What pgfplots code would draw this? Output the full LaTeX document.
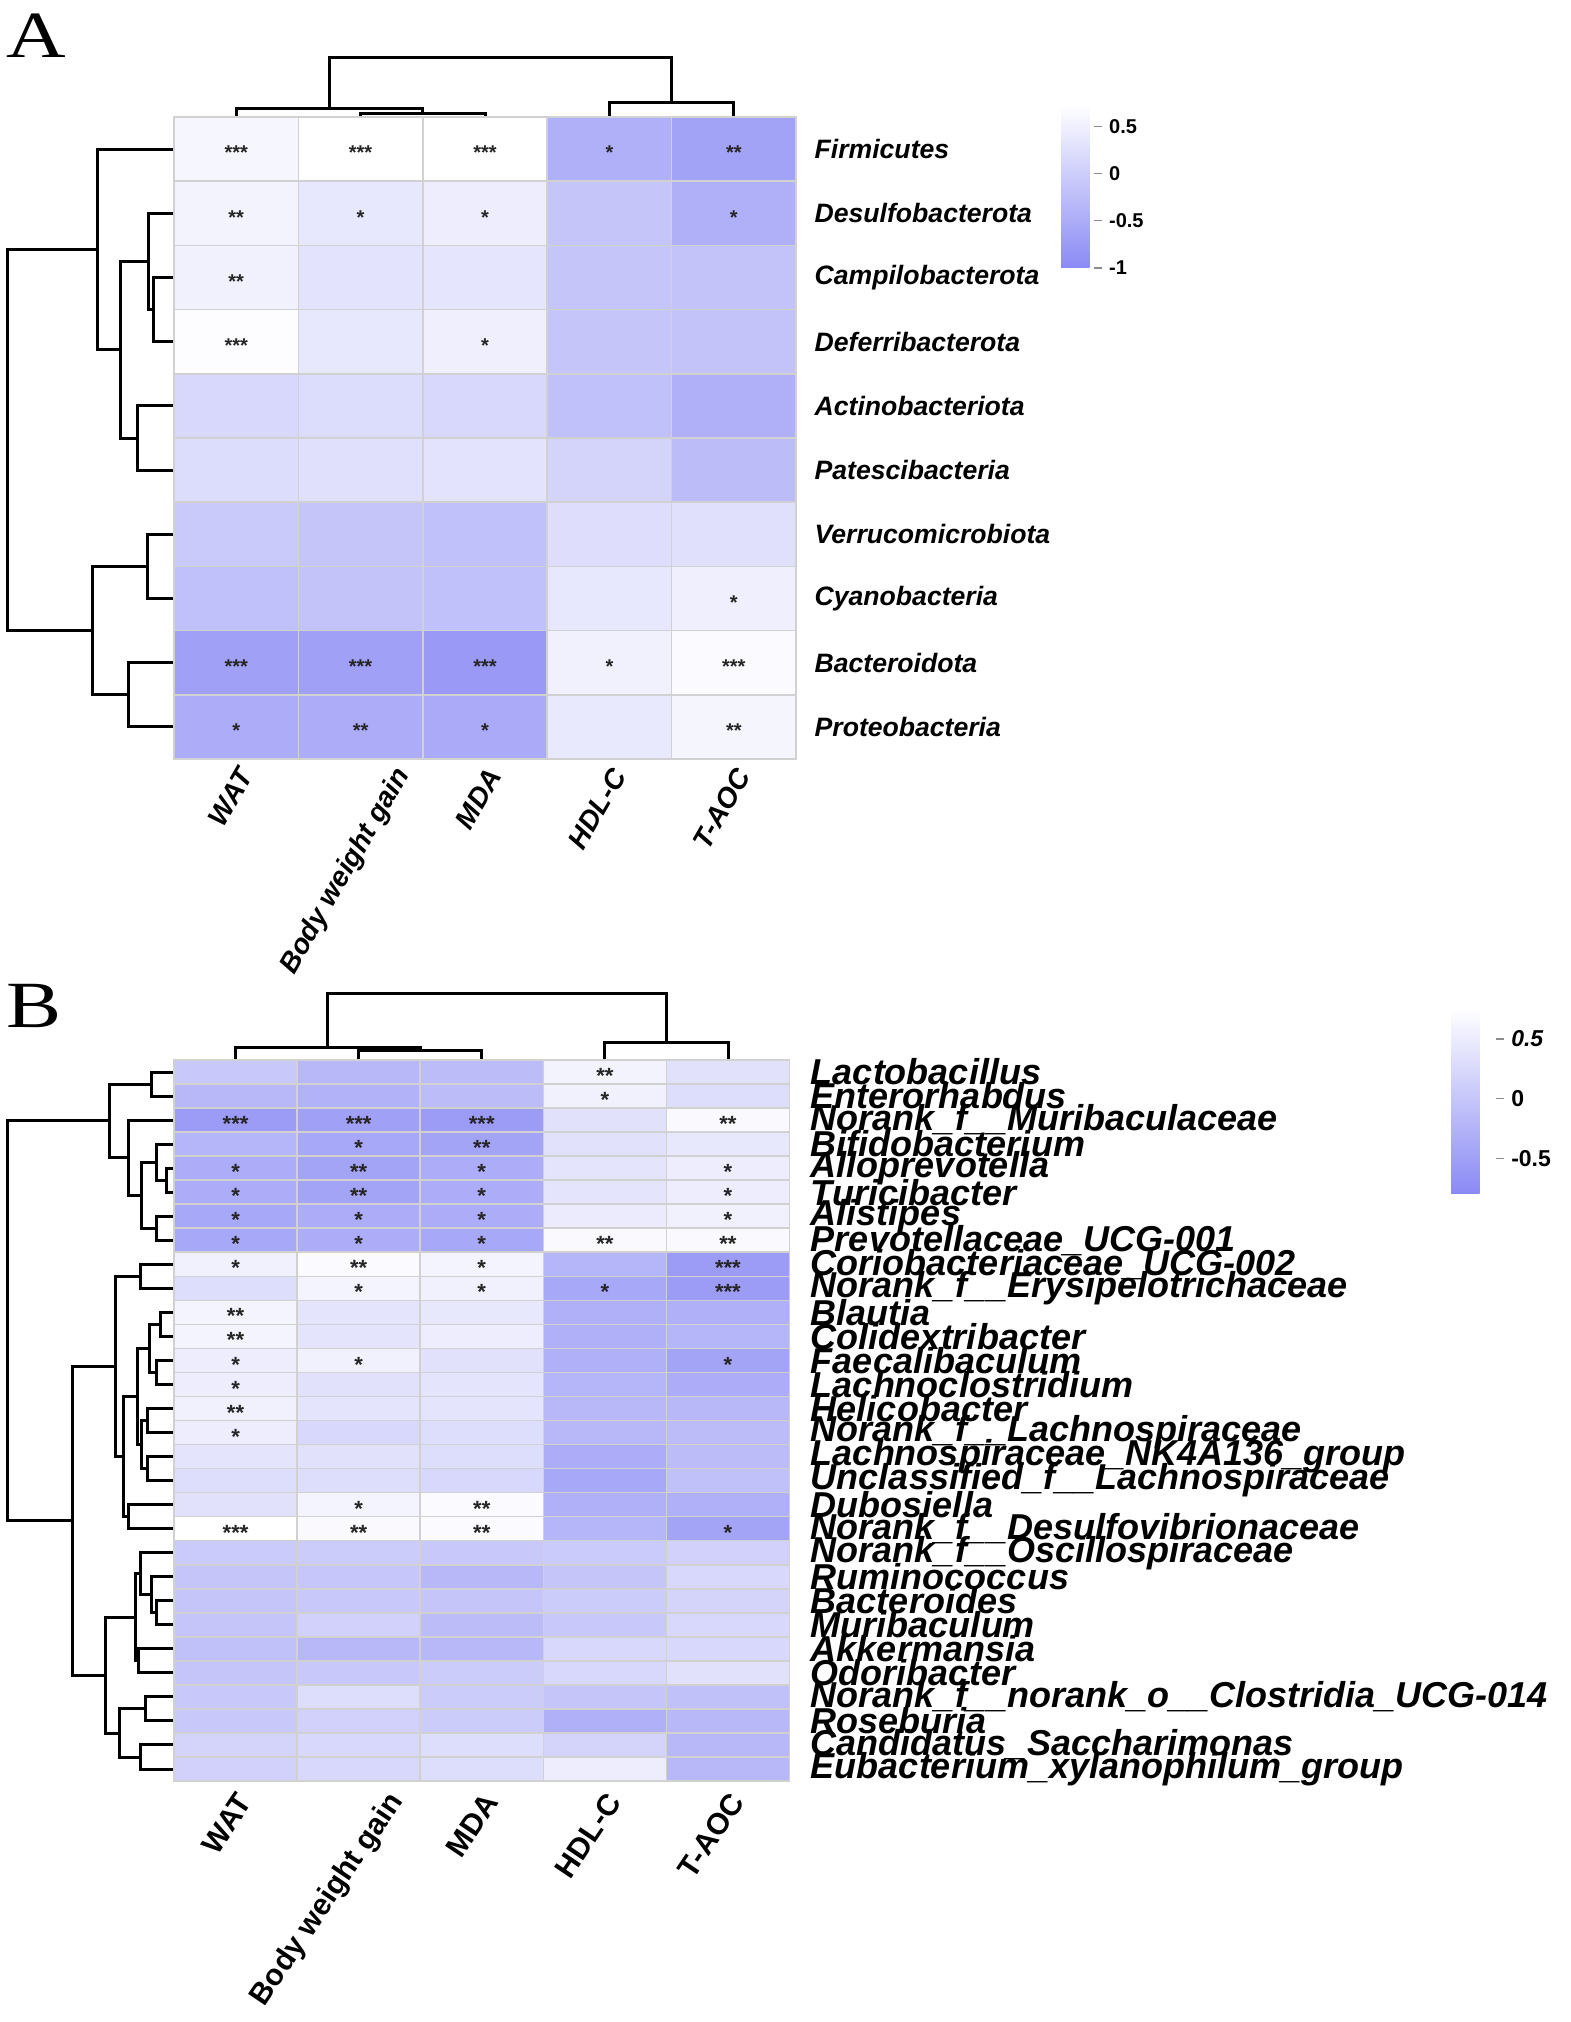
\documentclass[border=0pt]{standalone}
\usepackage{pgfplots}
\pgfplotsset{compat=1.18}
\usepackage{fontspec}
\setmainfont{Liberation Sans}
\newfontfamily\panelfont[FakeStretch=1.25]{Liberation Serif}

\newcommand\rowfontA{\fontsize{13.3}{14}\selectfont\bfseries\itshape}
\newcommand\colfontA{\fontsize{14}{14}\selectfont\bfseries\itshape}
\newcommand\rowfontB{\fontsize{18}{18}\selectfont\bfseries\itshape}
\newcommand\colfontB{\fontsize{15}{15}\selectfont\bfseries}
\newcommand\cbfontA{\fontsize{10}{10}\selectfont\bfseries}
\newcommand\cbfontB{\fontsize{11.5}{12}\selectfont\bfseries}
\newcommand\starfontA{\fontsize{10}{10}\selectfont\bfseries}
\newcommand\starfontB{\fontsize{11}{11}\selectfont\bfseries}

\pgfplotsset{
  colormap={heat}{rgb255=(138,138,245) rgb255=(255,255,255)},
  dendro/.style={black, line width=1.5pt, line cap=butt, line join=miter, mark=none},
  heatmap/.style={
    scale only axis, enlargelimits=false, y dir=reverse, axis on top,
    major tick length=0pt, minor tick length=0pt,
    axis line style={draw=black!18, line width=0.8pt},
    xminorgrids, yminorgrids,
    minor grid style={draw=black!18, line width=0.8pt},
    yticklabel pos=right, colormap name=heat,
    extra x tick style={grid=none},
  },
  cbar/.style={
    y dir=normal, anchor=north west, at={(parent axis.north east)},
    axis line style={draw=none}, xtick=\empty,
    minor xtick={}, minor ytick={}, xminorgrids=false, yminorgrids=false,
    ytick pos=right, yticklabel pos=right, tick align=outside,
    major tick length=4pt, tick style={draw=black!45, line width=0.6pt},
  },
  stars/.style={
    draw=none, mark=none, nodes near coords, point meta=explicit symbolic,
    every node near coord/.append style={anchor=center, font=#1,
      text=black!85, yshift=-2pt, inner sep=0pt},
  },
}

\begin{document}
\begin{tikzpicture}
\useasboundingbox (0,0) rectangle (785pt,-1011pt);

% canvas in pixel units of the reference: dendrograms and panel letters
\begin{axis}[at={(0pt,0pt)}, anchor=north west, scale only axis,
  width=785pt, height=1011pt, xmin=0, xmax=1570, ymin=0, ymax=2022,
  y dir=reverse, hide axis, clip=false]
  \node[anchor=north west, inner sep=0pt, font=\panelfont\fontsize{33}{33}\selectfont] at (axis cs:6,14) {A};
  \node[anchor=north west, inner sep=0pt, font=\panelfont\fontsize{33}{33}\selectfont] at (axis cs:6,984) {B};

  %% A, columns
  \addplot[dendro] coordinates {(360.6,117) (360.6,113) (485.0,113) (485.0,117)};
  \addplot[dendro] coordinates {(236.2,117) (236.2,108) (422.8,108) (422.8,113)};
  \addplot[dendro] coordinates {(609.4,117) (609.4,102) (733.8,102) (733.8,117)};
  \addplot[dendro] coordinates {(329.5,108) (329.5,57) (671.6,57) (671.6,102)};
  %% A, rows
  \addplot[dendro] coordinates {(174,277.5) (153.6,277.5) (153.6,341.7) (174,341.7)};
  \addplot[dendro] coordinates {(174,213.3) (148,213.3) (148,309.6) (153.6,309.6)};
  \addplot[dendro] coordinates {(174,405.9) (137,405.9) (137,470.1) (174,470.1)};
  \addplot[dendro] coordinates {(148,261.5) (120,261.5) (120,438) (137,438)};
  \addplot[dendro] coordinates {(174,149.1) (97,149.1) (97,349.7) (120,349.7)};
  \addplot[dendro] coordinates {(174,534.3) (147,534.3) (147,598.5) (174,598.5)};
  \addplot[dendro] coordinates {(174,662.7) (128,662.7) (128,726.9) (174,726.9)};
  \addplot[dendro] coordinates {(147,566.4) (92,566.4) (92,694.8) (128,694.8)};
  \addplot[dendro] coordinates {(97,249.4) (7.7,249.4) (7.7,630.6) (92,630.6)};

  %% B, columns
  \addplot[dendro] coordinates {(358.7,1060) (358.7,1050) (481.8,1050) (481.8,1060)};
  \addplot[dendro] coordinates {(235.6,1060) (235.6,1047) (420.2,1047) (420.2,1050)};
  \addplot[dendro] coordinates {(604.9,1060) (604.9,1042) (728.0,1042) (728.0,1060)};
  \addplot[dendro] coordinates {(327.9,1047) (327.9,993) (666.5,993) (666.5,1042)};
  %% B, rows
  \addplot[dendro] coordinates {(174,1072.0) (151,1072.0) (151,1096.0) (174,1096.0)};
  \addplot[dendro] coordinates {(174,1168.1) (166,1168.1) (166,1192.2) (174,1192.2)};
  \addplot[dendro] coordinates {(174,1144.1) (156,1144.1) (156,1180.2) (166,1180.2)};
  \addplot[dendro] coordinates {(174,1216.2) (156,1216.2) (156,1240.2) (174,1240.2)};
  \addplot[dendro] coordinates {(156,1162.2) (141,1162.2) (141,1228.2) (156,1228.2)};
  \addplot[dendro] coordinates {(174,1120.1) (128,1120.1) (128,1195.2) (141,1195.2)};
  \addplot[dendro] coordinates {(151,1084.0) (109,1084.0) (109,1157.7) (128,1157.7)};
  \addplot[dendro] coordinates {(174,1264.3) (140,1264.3) (140,1288.3) (174,1288.3)};
  \addplot[dendro] coordinates {(174,1312.3) (160.7,1312.3) (160.7,1336.4) (174,1336.4)};
  \addplot[dendro] coordinates {(174,1360.4) (156.7,1360.4) (156.7,1384.4) (174,1384.4)};
  \addplot[dendro] coordinates {(160.7,1324.4) (149,1324.4) (149,1372.4) (156.7,1372.4)};
  \addplot[dendro] coordinates {(174,1408.5) (147,1408.5) (147,1432.5) (174,1432.5)};
  \addplot[dendro] coordinates {(174,1456.5) (147,1456.5) (147,1480.6) (174,1480.6)};
  \addplot[dendro] coordinates {(147,1420.5) (141.7,1420.5) (141.7,1468.6) (147,1468.6)};
  \addplot[dendro] coordinates {(149,1348.4) (137,1348.4) (137,1444.5) (141.7,1444.5)};
  \addplot[dendro] coordinates {(174,1504.6) (128,1504.6) (128,1528.6) (174,1528.6)};
  \addplot[dendro] coordinates {(137,1396.5) (123,1396.5) (123,1516.6) (128,1516.6)};
  \addplot[dendro] coordinates {(140,1276.3) (115,1276.3) (115,1456.5) (123,1456.5)};
  \addplot[dendro] coordinates {(174,1600.7) (156.7,1600.7) (156.7,1624.8) (174,1624.8)};
  \addplot[dendro] coordinates {(174,1576.7) (151.7,1576.7) (151.7,1612.8) (156.7,1612.8)};
  \addplot[dendro] coordinates {(174,1552.7) (140,1552.7) (140,1594.8) (151.7,1594.8)};
  \addplot[dendro] coordinates {(174,1648.8) (138,1648.8) (138,1672.8) (174,1672.8)};
  \addplot[dendro] coordinates {(140,1573.8) (135,1573.8) (135,1660.8) (138,1660.8)};
  \addplot[dendro] coordinates {(174,1696.9) (145,1696.9) (145,1720.9) (174,1720.9)};
  \addplot[dendro] coordinates {(174,1744.9) (140.7,1744.9) (140.7,1769.0) (174,1769.0)};
  \addplot[dendro] coordinates {(145,1708.9) (119,1708.9) (119,1757.0) (140.7,1757.0)};
  \addplot[dendro] coordinates {(135,1617.3) (105,1617.3) (105,1733.0) (119,1733.0)};
  \addplot[dendro] coordinates {(115,1366.4) (72.7,1366.4) (72.7,1675.2) (105,1675.2)};
  \addplot[dendro] coordinates {(109,1120.9) (7.7,1120.9) (7.7,1520.8) (72.7,1520.8)};
\end{axis}

% ---------- panel A ----------
\begin{axis}[heatmap, at={(87pt,-58.5pt)}, anchor=north west,
  width=311pt, height=321pt,
  xmin=-0.5, xmax=4.5, ymin=-0.5, ymax=9.5,
  point meta min=-1, point meta max=0.73,
  xtick={0,2,3,4}, xticklabels={WAT,MDA,HDL-C,T-AOC},
  extra x ticks={1.27}, extra x tick labels={Body weight gain},
  minor xtick={0.5,1.5,2.5,3.5}, minor ytick={0.5,1.5,...,8.5},
  ytick={0,...,9},
  yticklabels={Firmicutes,Desulfobacterota,Campilobacterota,Deferribacterota,
    Actinobacteriota,Patescibacteria,Verrucomicrobiota,Cyanobacteria,
    Bacteroidota,Proteobacteria},
  xticklabel style={xshift=6.5pt, yshift=-3pt, rotate=60, anchor=east, font=\colfontA},
  yticklabel style={font=\rowfontA, xshift=5.8pt},
  colorbar,
  colorbar style={cbar, xshift=124pt, yshift=6pt, width=16.5pt, height=81.5pt,
    ytick={-1,-0.5,0,0.5}, yticklabels={-1,-0.5,0,0.5},
    yticklabel style={font=\cbfontA, rotate=0, xshift=0pt, yshift=0pt, anchor=west}},
]
\addplot[matrix plot*, mesh/cols=5, point meta=explicit] table[meta=v] {
x y v
0 0 0.59
1 0 0.73
2 0 0.73
3 0 -0.44
4 0 -0.65
0 1 0.54
1 1 0.36
2 1 0.45
3 1 -0.14
4 1 -0.44
0 2 0.51
1 2 0.30
2 2 0.33
3 2 -0.14
4 2 -0.17
0 3 0.69
1 3 0.36
2 3 0.48
3 3 -0.14
4 3 -0.17
0 4 0.15
1 4 0.21
2 4 0.15
3 4 -0.20
4 4 -0.44
0 5 0.21
1 5 0.27
2 5 0.30
3 5 0.09
4 5 -0.26
0 6 -0.08
1 6 -0.14
2 6 -0.20
3 6 0.24
4 6 0.27
0 7 -0.20
1 7 -0.17
2 7 -0.20
3 7 0.36
4 7 0.48
0 8 -0.67
1 8 -0.67
2 8 -0.76
3 8 0.51
4 8 0.66
0 9 -0.50
1 9 -0.50
2 9 -0.53
3 9 0.39
4 9 0.57
};
\addplot[stars=\starfontA] table[meta=s] {
x y s
0 0 ***
1 0 ***
2 0 ***
3 0 *
4 0 **
0 1 **
1 1 *
2 1 *
4 1 *
0 2 **
0 3 ***
2 3 *
4 7 *
0 8 ***
1 8 ***
2 8 ***
3 8 *
4 8 ***
0 9 *
1 9 **
2 9 *
4 9 **
};
\end{axis}

% ---------- panel B ----------
\begin{axis}[heatmap, at={(87pt,-530pt)}, anchor=north west,
  width=307.75pt, height=360.5pt,
  xmin=-0.5, xmax=4.5, ymin=-0.5, ymax=29.5,
  point meta min=-0.79, point meta max=0.76,
  xtick={0,2,3,4}, xticklabels={WAT,MDA,HDL-C,T-AOC},
  extra x ticks={1.24}, extra x tick labels={Body weight gain},
  minor xtick={0.5,1.5,2.5,3.5}, minor ytick={0.5,1.5,...,28.5},
  ytick={0,...,29},
  yticklabels={Lactobacillus,Enterorhabdus,Norank\_f\_\_Muribaculaceae,
    Bifidobacterium,Alloprevotella,Turicibacter,Alistipes,
    Prevotellaceae\_UCG-001,Coriobacteriaceae\_UCG-002,
    Norank\_f\_\_Erysipelotrichaceae,Blautia,Colidextribacter,Faecalibaculum,
    Lachnoclostridium,Helicobacter,Norank\_f\_\_Lachnospiraceae,
    Lachnospiraceae\_NK4A136\_group,Unclassified\_f\_\_Lachnospiraceae,
    Dubosiella,Norank\_f\_\_Desulfovibrionaceae,Norank\_f\_\_Oscillospiraceae,
    Ruminococcus,Bacteroides,Muribaculum,Akkermansia,Odoribacter,
    Norank\_f\_\_norank\_o\_\_Clostridia\_UCG-014,Roseburia,
    Candidatus\_Saccharimonas,Eubacterium\_xylanophilum\_group},
  xticklabel style={xshift=6.5pt, yshift=-5pt, rotate=56, anchor=east, font=\colfontB},
  yticklabel style={font=\rowfontB, xshift=7.2pt},
  colorbar,
  colorbar style={cbar, xshift=322.3pt, yshift=26pt, width=22.5pt, height=92.5pt,
    ytick={-0.5,0,0.5}, yticklabels={-0.5,0,\textit{0.5}},
    yticklabel style={font=\cbfontB, rotate=0, xshift=0pt, yshift=0pt, anchor=west}},
]
\addplot[matrix plot*, mesh/cols=5, point meta=explicit] table[meta=v] {
x y v
0 0 0.03
1 0 -0.18
2 0 -0.13
3 0 0.59
4 0 0.35
0 1 -0.18
1 1 -0.27
2 1 -0.13
3 1 0.56
4 1 0.30
0 2 -0.55
1 2 -0.50
2 2 -0.55
3 2 0.35
4 2 0.67
0 3 -0.23
1 3 -0.39
2 3 -0.45
3 3 0.35
4 3 0.45
0 4 -0.34
1 4 -0.45
2 4 -0.34
3 4 0.40
4 4 0.51
0 5 -0.34
1 5 -0.45
2 5 -0.34
3 5 0.40
4 5 0.51
0 6 -0.39
1 6 -0.34
2 6 -0.34
3 6 0.48
4 6 0.56
0 7 -0.39
1 7 -0.34
2 7 -0.39
3 7 0.67
4 7 0.67
0 8 0.56
1 8 0.69
2 8 0.61
3 8 -0.23
4 8 -0.55
0 9 0.30
1 9 0.61
2 9 0.56
3 9 -0.39
4 9 -0.55
0 10 0.61
1 10 0.40
2 10 0.45
3 10 -0.29
4 10 -0.29
0 11 0.61
1 11 0.40
2 11 0.51
3 11 -0.29
4 11 -0.23
0 12 0.51
1 12 0.56
2 12 0.35
3 12 -0.29
4 12 -0.45
0 13 0.51
1 13 0.35
2 13 0.40
3 13 -0.23
4 13 -0.34
0 14 0.56
1 14 0.40
2 14 0.40
3 14 -0.18
4 14 -0.18
0 15 0.51
1 15 0.24
2 15 0.30
3 15 -0.18
4 15 -0.13
0 16 0.40
1 16 0.35
2 16 0.30
3 16 -0.34
4 16 -0.13
0 17 0.30
1 17 0.30
2 17 0.24
3 17 -0.39
4 17 -0.07
0 18 0.35
1 18 0.61
2 18 0.69
3 18 -0.29
4 18 -0.29
0 19 0.76
1 19 0.67
2 19 0.69
3 19 -0.23
4 19 -0.45
0 20 0.06
1 20 0.08
2 20 0.03
3 20 0.06
4 20 0.14
0 21 -0.02
1 21 0.00
2 21 -0.18
3 21 -0.02
4 21 0.24
0 22 -0.02
1 22 0.03
2 22 -0.02
3 22 0.08
4 22 0.19
0 23 -0.02
1 23 0.14
2 23 -0.13
3 23 0.03
4 23 0.24
0 24 -0.07
1 24 -0.18
2 24 -0.18
3 24 0.24
4 24 0.24
0 25 -0.02
1 25 0.03
2 25 0.08
3 25 0.24
4 25 0.35
0 26 0.03
1 26 0.30
2 26 0.08
3 26 -0.02
4 26 -0.07
0 27 0.03
1 27 0.14
2 27 0.08
3 27 -0.29
4 27 -0.18
0 28 0.19
1 28 0.24
2 28 0.30
3 28 0.19
4 28 -0.18
0 29 0.14
1 29 0.24
2 29 0.30
3 29 0.51
4 29 -0.18
};
\addplot[stars=\starfontB] table[meta=s] {
x y s
3 0 **
3 1 *
0 2 ***
1 2 ***
2 2 ***
4 2 **
1 3 *
2 3 **
0 4 *
1 4 **
2 4 *
4 4 *
0 5 *
1 5 **
2 5 *
4 5 *
0 6 *
1 6 *
2 6 *
4 6 *
0 7 *
1 7 *
2 7 *
3 7 **
4 7 **
0 8 *
1 8 **
2 8 *
4 8 ***
1 9 *
2 9 *
3 9 *
4 9 ***
0 10 **
0 11 **
0 12 *
1 12 *
4 12 *
0 13 *
0 14 **
0 15 *
1 18 *
2 18 **
0 19 ***
1 19 **
2 19 **
4 19 *
};
\end{axis}
\end{tikzpicture}
\end{document}
